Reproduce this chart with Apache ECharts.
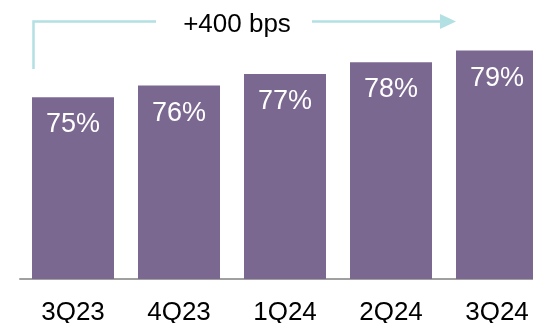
<!DOCTYPE html>
<html>
<head>
<meta charset="utf-8">
<script src="https://cdn.jsdelivr.net/npm/echarts@6/dist/echarts.min.js"></script>
<style>
  html, body { margin: 0; padding: 0; background: #ffffff; }
  #chart { width: 533px; height: 323px; }
</style>
</head>
<body>
<div id="chart"></div>
<script>
// Quarterly margin, percent
const quarters = ['3Q23', '4Q23', '1Q24', '2Q24', '3Q24'];
const marginPct = [75, 76, 77, 78, 79];
const changeLabel = '+400 bps';

const FONT = '"Liberation Sans", Arial, sans-serif';
const BAR_COLOR = '#7b6891';
const ARROW_COLOR = '#b2e0e3';

const chart = echarts.init(document.getElementById('chart'), null, { renderer: 'canvas' });

chart.setOption({
  animation: false,
  backgroundColor: '#ffffff',
  grid: {
    left: 20, width: 530, top: 4, bottom: 44,
    containLabel: false,
    outerBoundsMode: 'none'
  },
  xAxis: {
    type: 'category',
    data: quarters,
    axisLine: { show: true, lineStyle: { color: '#a0a0a0', width: 2 } },
    axisTick: { show: false },
    axisLabel: { color: '#000000', fontFamily: FONT, fontSize: 26, margin: 21, hideOverlap: false }
  },
  yAxis: {
    type: 'value',
    min: 59.4,
    max: 83,
    show: false,
    splitLine: { show: false }
  },
  series: [{
    type: 'bar',
    data: marginPct,
    barWidth: 82,
    itemStyle: { color: BAR_COLOR },
    label: {
      show: true,
      position: 'insideTop',
      distance: 14,
      color: '#ffffff',
      fontFamily: FONT,
      fontSize: 27,
      formatter: p => p.value + '%'
    }
  }],
  graphic: [
    // bracket arrow above the bars
    {
      type: 'polyline',
      shape: { points: [[33.5, 69], [33.5, 21.5], [156, 21.5]] },
      style: { stroke: ARROW_COLOR, lineWidth: 2.5, fill: null }
    },
    {
      type: 'line',
      shape: { x1: 312, y1: 21.5, x2: 441, y2: 21.5 },
      style: { stroke: ARROW_COLOR, lineWidth: 2.5 }
    },
    {
      type: 'polygon',
      shape: { points: [[440, 14], [456, 21.5], [440, 29]] },
      style: { fill: ARROW_COLOR }
    },
    {
      type: 'text',
      x: 237, y: 25,
      style: {
        text: changeLabel,
        font: '26px ' + FONT,
        fill: '#000000',
        textAlign: 'center',
        textVerticalAlign: 'middle'
      }
    }
  ]
});
</script>
</body>
</html>
